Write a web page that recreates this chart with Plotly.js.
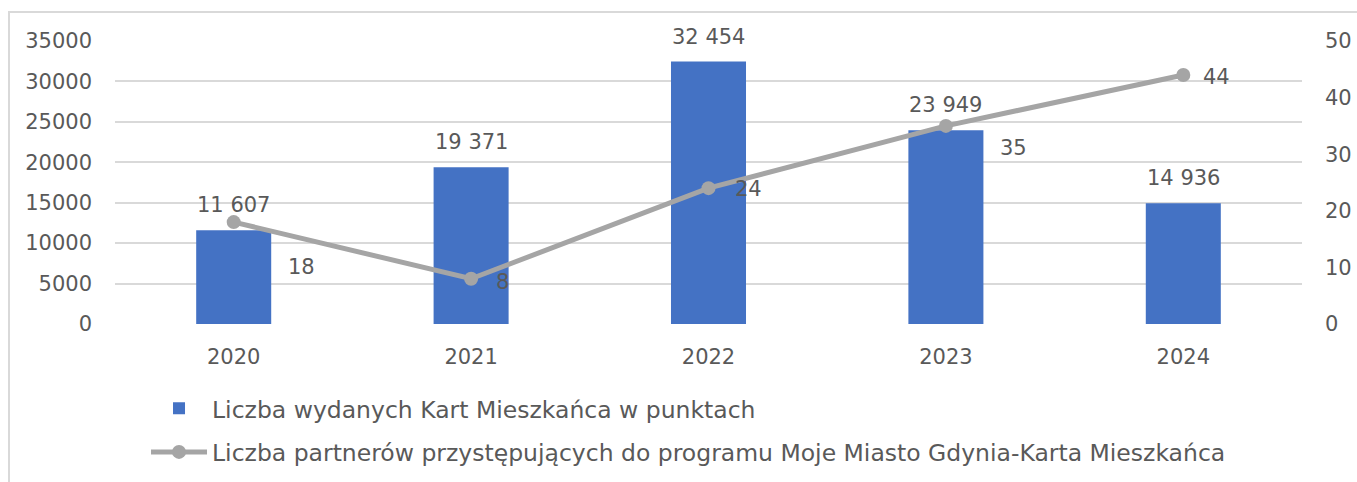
<!DOCTYPE html>
<html>
<head>
<meta charset="utf-8">
<script src="https://cdn.plot.ly/plotly-3.0.1.min.js"></script>
<style>
  html, body { margin: 0; padding: 0; background: #ffffff; }
  #wrap { position: relative; width: 1357px; height: 482px; overflow: hidden; }
  #frame { position: absolute; left: 8px; top: 11px; width: 1400px; height: 500px;
           border-left: 2px solid #d9d9d9; border-top: 2px solid #d9d9d9; box-sizing: border-box; pointer-events: none; }
  #chart { position: absolute; left: 0; top: 0; width: 1357px; height: 482px; }
</style>
</head>
<body>
<div id="wrap">
  <div id="chart"></div>
  <div id="frame"></div>
</div>
<script>
// ---- data ----
const years = ['2020', '2021', '2022', '2023', '2024'];
const cardsIssued = [11607, 19371, 32454, 23949, 14936];
const partners = [18, 8, 24, 35, 44];
const seriesNames = [
  'Liczba wydanych Kart Mieszkańca w punktach',
  'Liczba partnerów przystępujących do programu Moje Miasto Gdynia-Karta Mieszkańca'
];

// ---- styles ----
const FONT = 'DejaVu Sans, sans-serif';
const TXT = '#595959';
const FS = 21;
const LFS = 23.5;
const BLUE = '#4472C4';
const GREY = '#A5A5A5';

// per-point label offsets (pixels) for the line labels
const lineLabelShift = [[52, -45], [23, -3], [24, -1], [52, -22], [18, -2]];

function fmt(v) {
  return String(v).replace(/\B(?=(\d{3})+(?!\d))/g, ' ');
}

const traces = [
  {
    type: 'bar', x: years, y: cardsIssued, name: seriesNames[0],
    marker: { color: BLUE }, width: 0.316, yaxis: 'y',
    legendgroup: 'a', hoverinfo: 'skip'
  },
  {
    type: 'scatter', mode: 'lines+markers', x: years, y: partners, name: seriesNames[1],
    line: { color: GREY, width: 5 }, marker: { color: GREY, size: 14 },
    yaxis: 'y2', legendgroup: 'b', hoverinfo: 'skip', cliponaxis: false
  }
];

const annotations = [];
years.forEach((yr, i) => {
  annotations.push({
    x: i, y: cardsIssued[i], xref: 'x', yref: 'y', text: fmt(cardsIssued[i]),
    showarrow: false, xanchor: 'center', yanchor: 'bottom', yshift: 11,
    font: { family: FONT, size: FS, color: TXT }
  });
  annotations.push({
    x: i, y: partners[i], xref: 'x', yref: 'y2', text: String(partners[i]),
    showarrow: false, xanchor: 'left', yanchor: 'middle',
    xshift: lineLabelShift[i][0], yshift: lineLabelShift[i][1],
    font: { family: FONT, size: FS, color: TXT }
  });
});

const layout = {
  width: 1357, height: 482,
  margin: { l: 114.5, r: 55, t: 41, b: 158, autoexpand: false },
  paper_bgcolor: '#ffffff', plot_bgcolor: '#ffffff',
  font: { family: FONT, size: FS, color: TXT },
  showlegend: true,
  legend: {
    orientation: 'v', xref: 'container', yref: 'container',
    x: 0.1076, y: 0.198, xanchor: 'left', yanchor: 'top',
    font: { family: FONT, size: LFS, color: TXT },
    itemwidth: 56,
    tracegroupgap: 10, bgcolor: 'rgba(0,0,0,0)'
  },
  xaxis: {
    type: 'category', range: [-0.5, years.length - 0.5], autorange: false,
    showgrid: false, zeroline: false, showline: false,
    ticks: '', ticklabelstandoff: 18,
    tickfont: { family: FONT, size: FS, color: TXT }
  },
  yaxis: {
    range: [0, 35000], autorange: false, dtick: 5000, tickformat: 'd',
    showgrid: true, gridcolor: '#d9d9d9', gridwidth: 2, zeroline: false,
    showline: false, ticks: '', ticklabelstandoff: 22,
    tickfont: { family: FONT, size: FS, color: TXT }
  },
  yaxis2: {
    range: [0, 50], autorange: false, dtick: 10, overlaying: 'y', side: 'right',
    showgrid: false, zeroline: false, showline: false, ticks: '',
    ticklabelstandoff: 22,
    tickfont: { family: FONT, size: FS, color: TXT }
  },
  annotations: annotations
};

Plotly.newPlot('chart', traces, layout, { displayModeBar: false, staticPlot: true });
</script>
</body>
</html>
